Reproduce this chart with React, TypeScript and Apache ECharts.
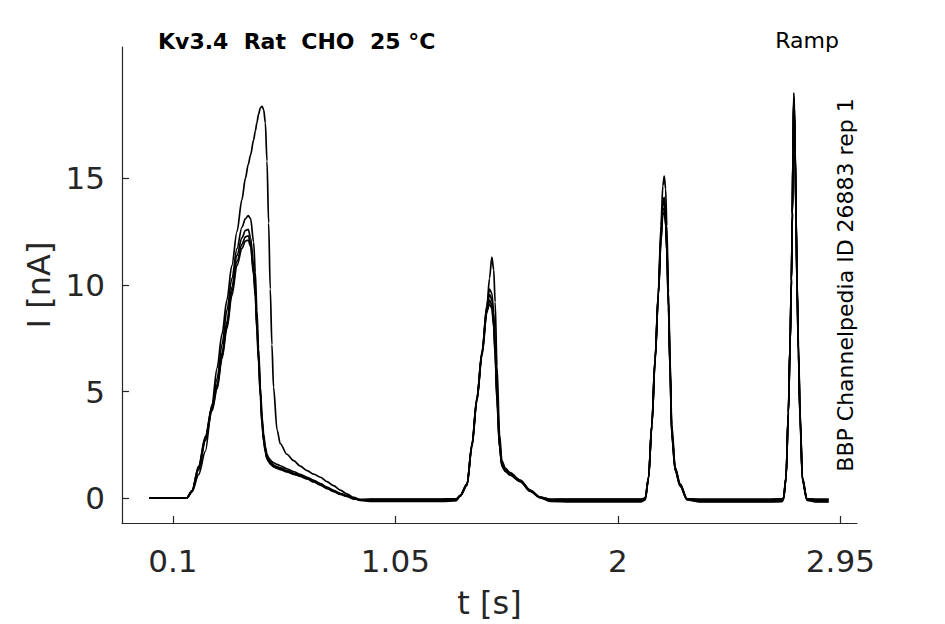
import React, { useEffect, useRef } from "react";
import * as echarts from "echarts";

// time grid [s]
const T = [
  0, 0.1, 0.16, 0.182, 0.21, 0.239, 0.267, 0.289, 0.31, 0.331,
  0.352, 0.374, 0.395, 0.41, 0.422, 0.432, 0.445, 0.452, 0.459, 0.466,
  0.474, 0.481, 0.488, 0.495, 0.502, 0.509, 0.516, 0.523, 0.53, 0.545,
  0.559, 0.587, 0.616, 0.644, 0.673, 0.701, 0.73, 0.758, 0.786, 0.815,
  0.843, 0.872, 0.9, 0.95, 1.05, 1.15, 1.25, 1.31, 1.327, 1.356,
  1.377, 1.398, 1.42, 1.441, 1.452, 1.462, 1.47, 1.476, 1.484, 1.495,
  1.505, 1.52, 1.54, 1.583, 1.626, 1.668, 1.711, 1.8, 1.9, 2.0,
  2.1, 2.117, 2.131, 2.145, 2.159, 2.173, 2.184, 2.192, 2.198, 2.204,
  2.209, 2.216, 2.223, 2.23, 2.245, 2.266, 2.295, 2.35, 2.45, 2.55,
  2.65, 2.7, 2.707, 2.718, 2.728, 2.735, 2.741, 2.745, 2.748, 2.751,
  2.754, 2.757, 2.761, 2.765, 2.771, 2.778, 2.788, 2.807, 2.85, 2.9,
];

// currents [nA], one array per trace
const traceH = [
  0, 0, 0.02, 0.3, 1.1, 2.2, 4.4, 6.1, 7.7, 9.3,
  10.9, 12.5, 14.0, 15.0, 15.65, 16.1, 16.8, 17.2, 17.6, 18.0,
  18.3, 18.37, 18.2, 17.6, 15.8, 12.9, 9.8, 7.2, 5.2, 3.2,
  2.55, 2.06, 1.76, 1.5, 1.29, 1.13, 0.98, 0.78, 0.59, 0.38,
  0.2, 0.04, -0.08, -0.1, -0.1, -0.1, -0.08, -0.06, 0.1, 0.6,
  2.4, 4.6, 6.8, 9.0, 10.3, 11.3, 10.7, 9.2, 6.2, 3.0,
  1.75, 1.4, 1.2, 0.85, 0.38, 0.05, -0.1, -0.1, -0.1, -0.1,
  -0.1, 0.0, 0.98, 3.46, 6.57, 9.67, 12.78, 14.64, 15.1, 14.5,
  12.78, 9.67, 6.57, 3.46, 1.44, 0.67, -0.03, -0.1, -0.1, -0.1,
  -0.1, -0.08, 0.0, 0.98, 4.08, 7.19, 10.29, 13.4, 16.5, 19.0,
  18.3, 16.5, 13.4, 10.29, 7.19, 4.08, 0.98, -0.03, -0.1, -0.1,
];
const traceB = [
  0, 0, 0.02, 0.36, 1.5, 2.9, 4.3, 5.6, 7.2, 8.8,
  10.3, 11.7, 12.7, 13.1, 13.25, 13.1, 12.0, 10.6, 8.8, 7.0,
  5.2, 3.8, 3.0, 2.4, 2.05, 1.9, 1.8, 1.72, 1.66, 1.58,
  1.52, 1.38, 1.25, 1.12, 0.98, 0.84, 0.68, 0.52, 0.37, 0.22,
  0.1, -0.02, -0.08, -0.05, -0.05, -0.05, -0.05, -0.04, 0.13, 0.67,
  2.53, 4.7, 6.88, 9.05, 9.8, 9.6, 8.7, 7.3, 5.0, 2.6,
  1.6, 1.3, 1.13, 0.82, 0.36, 0.05, -0.05, -0.05, -0.05, -0.05,
  -0.05, 0.0, 0.98, 3.46, 6.57, 9.67, 12.4, 13.9, 14.1, 13.4,
  12.0, 9.3, 6.2, 3.2, 1.4, 0.65, -0.03, -0.05, -0.05, -0.05,
  -0.05, -0.04, 0.0, 0.98, 4.08, 7.19, 10.29, 13.4, 16.4, 18.8,
  18.1, 16.3, 13.2, 10.1, 7.0, 3.9, 0.95, -0.03, -0.05, -0.05,
];
const traceC = [
  0, 0, 0.02, 0.36, 1.44, 2.84, 4.24, 5.32, 6.8, 8.28,
  9.9, 11.38, 12.2, 12.55, 12.6, 12.2, 10.9, 9.83, 8.2, 6.72,
  5.0, 3.62, 2.8, 2.3, 1.95, 1.8, 1.7, 1.62, 1.55, 1.48,
  1.42, 1.3, 1.18, 1.08, 0.96, 0.82, 0.67, 0.5, 0.36, 0.22,
  0.12, 0.0, -0.08, -0.12, -0.12, -0.12, -0.12, -0.1, 0.13, 0.67,
  2.5, 4.6, 6.8, 8.9, 9.55, 9.3, 8.4, 7.0, 4.8, 2.5,
  1.55, 1.28, 1.1, 0.8, 0.34, 0.03, -0.12, -0.14, -0.14, -0.14,
  -0.14, -0.05, 0.95, 3.4, 6.5, 9.6, 12.3, 13.7, 13.9, 13.2,
  11.8, 9.2, 6.1, 3.1, 1.35, 0.6, -0.05, -0.15, -0.15, -0.15,
  -0.15, -0.13, -0.05, 0.95, 4.0, 7.1, 10.2, 13.3, 16.3, 18.7,
  18.0, 16.2, 13.1, 10.0, 6.9, 3.8, 0.9, -0.08, -0.15, -0.15,
];
const traceD = [
  0, 0, 0.02, 0.33, 1.38, 2.76, 4.15, 5.2, 6.65, 8.1,
  9.7, 11.1, 11.9, 12.25, 12.3, 11.95, 10.6, 9.6, 8.0, 6.5,
  4.8, 3.5, 2.7, 2.2, 1.88, 1.74, 1.64, 1.56, 1.5, 1.43,
  1.37, 1.25, 1.14, 1.04, 0.92, 0.78, 0.63, 0.47, 0.33, 0.2,
  0.1, -0.02, -0.1, -0.15, -0.15, -0.15, -0.15, -0.12, 0.1, 0.62,
  2.45, 4.55, 6.7, 8.7, 9.3, 9.05, 8.2, 6.8, 4.6, 2.4,
  1.5, 1.25, 1.08, 0.78, 0.32, 0.02, -0.15, -0.17, -0.17, -0.17,
  -0.17, -0.08, 0.92, 3.35, 6.4, 9.5, 12.1, 13.5, 13.6, 13.0,
  11.6, 9.0, 6.0, 3.0, 1.3, 0.58, -0.08, -0.18, -0.18, -0.18,
  -0.18, -0.16, -0.08, 0.92, 3.95, 7.05, 10.1, 13.2, 16.2, 18.6,
  17.9, 16.1, 13.0, 9.9, 6.8, 3.7, 0.85, -0.1, -0.18, -0.18,
];
const traceE = [
  0, 0, 0.02, 0.3, 1.32, 2.7, 4.08, 5.12, 6.55, 7.95,
  9.5, 10.9, 11.7, 12.05, 12.1, 11.8, 10.45, 9.45, 7.85, 6.35,
  4.7, 3.4, 2.65, 2.15, 1.85, 1.7, 1.6, 1.53, 1.47, 1.4,
  1.34, 1.23, 1.12, 1.02, 0.9, 0.76, 0.61, 0.45, 0.31, 0.18,
  0.08, -0.03, -0.06, -0.04, -0.04, -0.04, -0.04, -0.03, 0.12, 0.64,
  2.5, 4.65, 6.8, 8.8, 9.1, 8.9, 8.0, 6.7, 4.5, 2.35,
  1.52, 1.26, 1.1, 0.79, 0.33, 0.04, -0.05, -0.04, -0.04, -0.04,
  -0.04, 0.0, 0.96, 3.4, 6.45, 9.55, 12.0, 13.3, 13.4, 12.8,
  11.5, 8.9, 5.9, 2.95, 1.28, 0.56, -0.04, -0.05, -0.05, -0.05,
  -0.05, -0.04, 0.0, 0.96, 4.0, 7.1, 10.2, 13.3, 16.3, 18.5,
  17.8, 16.0, 12.9, 9.8, 6.7, 3.6, 0.85, -0.04, -0.05, -0.05,
];

const traces = [traceE, traceD, traceC, traceB, traceH];

const xTicks = [0.1, 1.05, 2, 2.95];
const yTicks = [0, 5, 10, 15];

const titleText = "Kv3.4\u00A0\u00A0Rat\u00A0\u00A0CHO\u00A0\u00A025 °C";
const protocolText = "Ramp";
const sourceText = "BBP Channelpedia ID 26883 rep 1";

const FONT = "'DejaVu Sans', 'Liberation Sans', sans-serif";
const AXIS_COLOR = "#262626";

export default function App() {
  const ref = useRef<HTMLDivElement>(null);

  useEffect(() => {
    if (!ref.current) return;
    const chart = echarts.init(ref.current, undefined, { renderer: "svg" });
    chart.setOption({
      animation: false,
      backgroundColor: "#ffffff",
      grid: { left: 122, top: 47, width: 735, height: 479, containLabel: false },
      xAxis: {
        type: "value",
        min: -0.117,
        max: 3.021,
        name: "t [s]",
        nameLocation: "middle",
        nameGap: 64,
        nameTextStyle: { fontSize: 32, color: AXIS_COLOR, fontFamily: FONT },
        axisLine: { show: true, onZero: false, lineStyle: { color: AXIS_COLOR, width: 1.2 } },
        axisTick: {
          show: true,
          inside: true,
          length: 7,
          customValues: xTicks,
          lineStyle: { color: AXIS_COLOR, width: 1.2 },
        },
        axisLabel: {
          show: true,
          customValues: xTicks,
          margin: 22,
          fontSize: 31,
          color: AXIS_COLOR,
          fontFamily: FONT,
          formatter: (v: number) => String(v),
        },
        splitLine: { show: false },
      },
      yAxis: {
        type: "value",
        min: -1.164,
        max: 21.15,
        name: "I [nA]",
        nameLocation: "middle",
        nameGap: 66,
        nameTextStyle: { fontSize: 32, color: AXIS_COLOR, fontFamily: FONT },
        axisLine: { show: true, onZero: false, lineStyle: { color: AXIS_COLOR, width: 1.2 } },
        axisTick: {
          show: true,
          inside: true,
          length: 7,
          customValues: yTicks,
          lineStyle: { color: AXIS_COLOR, width: 1.2 },
        },
        axisLabel: {
          show: true,
          customValues: yTicks,
          margin: 17,
          padding: [6, 0, 0, 0],
          fontSize: 31,
          color: AXIS_COLOR,
          fontFamily: FONT,
          formatter: (v: number) => String(v),
        },
        splitLine: { show: false },
      },
      graphic: [
        {
          type: "text",
          x: 158,
          y: 41,
          style: {
            text: titleText,
            fontSize: 22,
            fontWeight: "bold",
            fontFamily: FONT,
            fill: "#000",
            textAlign: "left",
            textVerticalAlign: "middle",
          },
        },
        {
          type: "text",
          x: 839,
          y: 40,
          style: {
            text: protocolText,
            fontSize: 22,
            fontFamily: FONT,
            fill: "#000",
            textAlign: "right",
            textVerticalAlign: "middle",
          },
        },
        {
          type: "text",
          x: 845,
          y: 285,
          rotation: Math.PI / 2,
          style: {
            text: sourceText,
            fontSize: 22,
            fontFamily: FONT,
            fill: "#000",
            textAlign: "center",
            textVerticalAlign: "middle",
          },
        },
      ],
      series: traces.map((vals, k) => ({
        type: "line",
        name: "trace" + k,
        data: T.map((t, i) => [t, vals[i]]),
        showSymbol: false,
        symbol: "none",
        smooth: 0.3,
        smoothMonotone: "x",
        lineStyle: { color: "#000", width: 1.7 },
        silent: true,
      })),
    });
    return () => chart.dispose();
  }, []);

  return (
    <div
      ref={ref}
      style={{ position: "absolute", left: 0, top: 0, width: 945, height: 624 }}
    />
  );
}
